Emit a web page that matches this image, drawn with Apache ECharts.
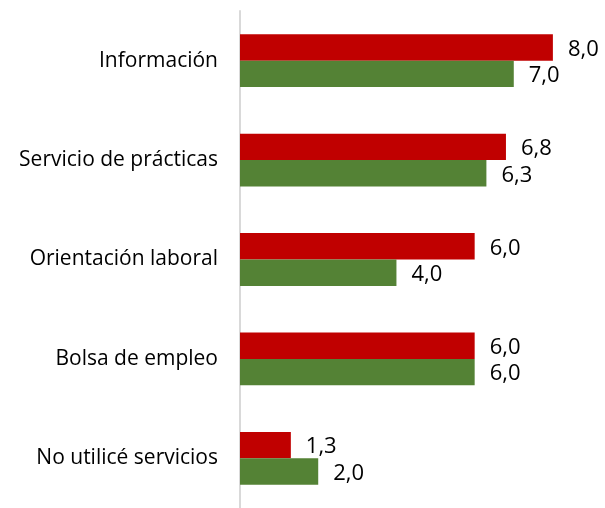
<!DOCTYPE html>
<html>
<head>
<meta charset="utf-8">
<script src="https://cdn.jsdelivr.net/npm/echarts@6/dist/echarts.min.js"></script>
<style>
  html, body { margin: 0; padding: 0; background: #fff; }
  #chart { width: 605px; height: 508px; }
</style>
</head>
<body>
<div id="chart"></div>
<script>
// Service categories, top to bottom
const categories = [
  'Información',
  'Servicio de prácticas',
  'Orientación laboral',
  'Bolsa de empleo',
  'No utilicé servicios'
];
// Red series (upper bar of each pair)
const serieRoja = [8.0, 6.8, 6.0, 6.0, 1.3];
// Green series (lower bar of each pair)
const serieVerde = [7.0, 6.3, 4.0, 6.0, 2.0];

const FONT = 'Open Sans';
const fmt = p => p.value.toFixed(1).replace('.', ',');

const valueLabel = {
  show: true,
  position: 'right',
  distance: 15,
  offset: [0, 2],
  formatter: fmt,
  color: '#000',
  fontSize: 22,
  fontFamily: FONT
};

const chart = echarts.init(document.getElementById('chart'));
chart.setOption({
  animation: false,
  grid: { left: 240, right: 13, top: 11, height: 502, containLabel: false },
  xAxis: {
    type: 'value',
    min: 0,
    max: 9,
    show: false
  },
  yAxis: {
    type: 'category',
    data: categories,
    inverse: true,
    axisLine: { show: true, lineStyle: { color: '#d9d9d9', width: 2 } },
    axisTick: { show: false },
    axisLabel: {
      color: '#000',
      fontSize: 21,
      fontFamily: FONT,
      margin: 22,
      padding: [4, 0, 0, 0]
    }
  },
  series: [
    {
      type: 'bar',
      data: serieRoja,
      barWidth: 26.4,
      barGap: '0%',
      itemStyle: { color: '#c00000' },
      label: valueLabel
    },
    {
      type: 'bar',
      data: serieVerde,
      barWidth: 26.4,
      itemStyle: { color: '#548235' },
      label: valueLabel
    }
  ]
});
</script>
</body>
</html>
